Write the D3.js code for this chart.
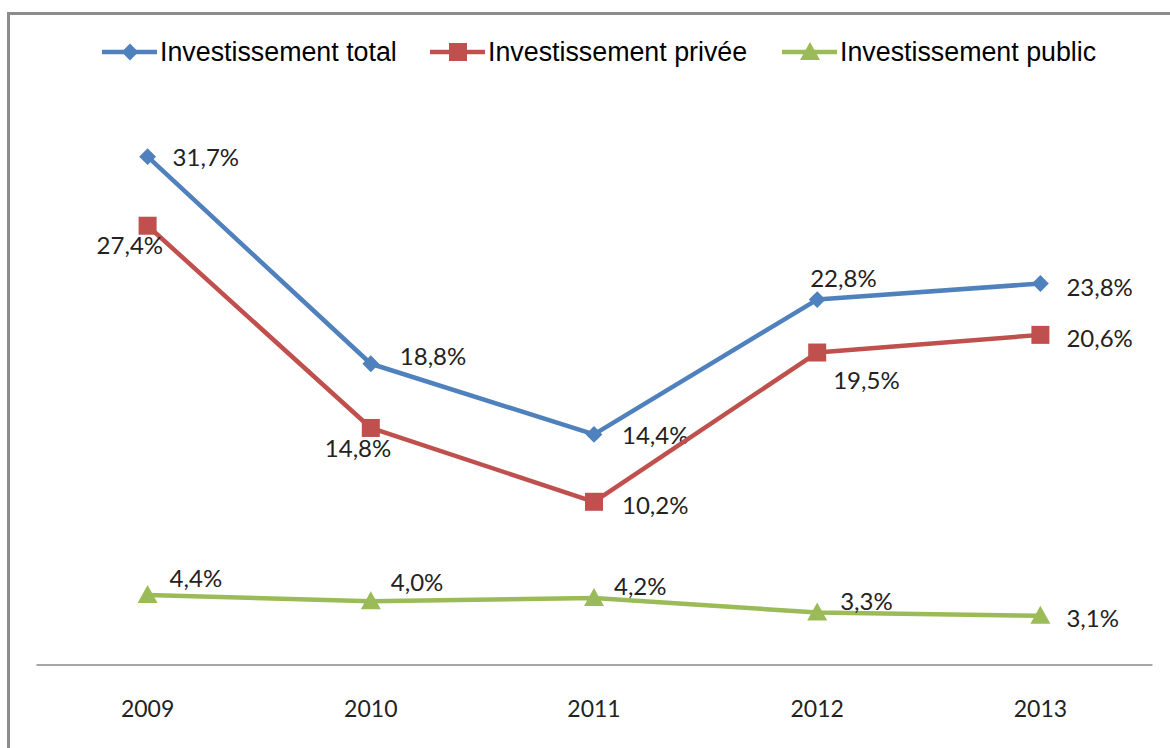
<!DOCTYPE html>
<html>
<head>
<meta charset="utf-8">
<script src="https://cdn.jsdelivr.net/npm/d3@7"></script>
<style>
  body { margin: 0; background: #fff; }
  svg { display: block; }
</style>
</head>
<body>
<div class="drawingArea"></div>
<script>
// data
var years = ["2009", "2010", "2011", "2012", "2013"];
var totalInv = [31.7, 18.8, 14.4, 22.8, 23.8];
var privateInv = [27.4, 14.8, 10.2, 19.5, 20.6];
var publicInv = [4.4, 4.0, 4.2, 3.3, 3.1];
var seriesNames = ["Investissement total", "Investissement privée", "Investissement public"];

var width = 1170;
var height = 748;

// label placement, left edge offset from the point (dx, dy)
var labelOffsets = [
    [[25, 0], [29, -8], [28, 0], [-7, -22], [26, 3]],
    [[-51, 19], [-46, 20], [28, 3], [16, 27], [26, 3]],
    [[22, -17], [20, -20], [20, -13], [23, -12], [26, 2]]
];

var series = [
    { name: seriesNames[0], values: totalInv, color: "#4F81BD", marker: "diamond" },
    { name: seriesNames[1], values: privateInv, color: "#C0504D", marker: "square" },
    { name: seriesNames[2], values: publicInv, color: "#9BBB59", marker: "triangle" }
];

var svg = d3.select(".drawingArea")
    .append("svg")
    .attr("width", width)
    .attr("height", height);

// frame (right and bottom run off the picture)
svg.append("rect")
    .attr("x", 8.5).attr("y", 13.5)
    .attr("width", 1200).attr("height", 800)
    .attr("fill", "none")
    .attr("stroke", "#8c8c8c")
    .attr("stroke-width", 3);

var x = d3.scaleBand().domain(years).range([36, 1152]);
var y = d3.scaleLinear().domain([0, 40]).range([665.5, 23.5]);

// x axis
var xAxis = svg.append("g")
    .attr("transform", "translate(0," + 664.5 + ")")
    .call(d3.axisBottom(x).tickSize(0).tickPadding(36));
xAxis.select(".domain").attr("stroke", "#a6a6a6").attr("stroke-width", 2);
xAxis.selectAll("text")
    .attr("font-family", "Lato, 'Open Sans', sans-serif")
    .attr("font-size", 23)
    .attr("fill", "#222");

function cx(i) { return x(years[i]) + x.bandwidth() / 2; }

var line = d3.line()
    .x(function(d, i) { return cx(i); })
    .y(function(d) { return y(d); });

function drawMarker(g, type, color) {
    if (type == "diamond") {
        g.append("path").attr("d", d3.symbol().type(d3.symbolDiamond2).size(180)).attr("fill", color);
    } else if (type == "square") {
        g.append("rect").attr("x", -9).attr("y", -9).attr("width", 18).attr("height", 18).attr("fill", color);
    } else {
        g.append("path").attr("d", "M0,-10L10,8L-10,8Z").attr("fill", color);
    }
}

series.forEach(function(s, si) {
    svg.append("path")
        .datum(s.values)
        .attr("d", line)
        .attr("fill", "none")
        .attr("stroke", s.color)
        .attr("stroke-width", 4.5)
        .attr("stroke-linejoin", "round");

    s.values.forEach(function(v, i) {
        var g = svg.append("g").attr("transform", "translate(" + cx(i) + "," + y(v) + ")");
        drawMarker(g, s.marker, s.color);
        g.append("text")
            .attr("x", labelOffsets[si][i][0])
            .attr("y", labelOffsets[si][i][1])
            .attr("dominant-baseline", "central")
            .attr("font-family", "Lato, 'Open Sans', sans-serif")
            .attr("font-size", 24)
            .attr("fill", "#222")
            .text(d3.format(".1f")(v).replace(".", ",") + "%");
    });
});

// legend
var legendX = [102, 430, 782];
series.forEach(function(s, i) {
    var g = svg.append("g").attr("transform", "translate(" + legendX[i] + ",52)");
    g.append("line").attr("x1", 0).attr("x2", 55).attr("stroke", s.color).attr("stroke-width", 4.5);
    var m = g.append("g").attr("transform", "translate(28,0)");
    drawMarker(m, s.marker, s.color);
    g.append("text")
        .attr("x", 58)
        .attr("dominant-baseline", "central")
        .attr("font-family", "'Liberation Sans', Arial, sans-serif")
        .attr("font-size", 26.8)
        .attr("fill", "#000")
        .text(s.name);
});
</script>
</body>
</html>
